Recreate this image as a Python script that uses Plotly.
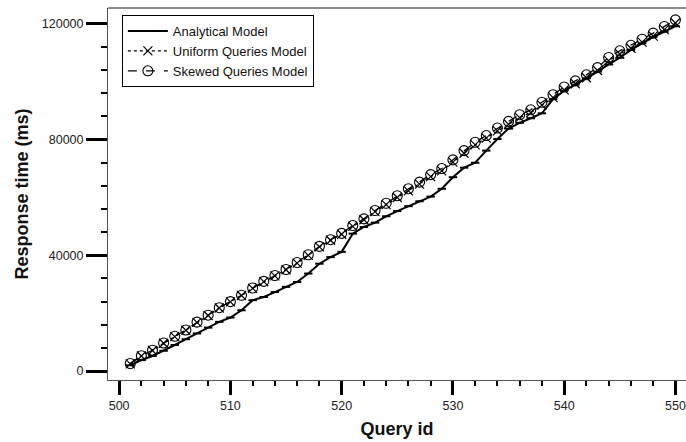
import plotly.graph_objects as go

query_ids = list(range(501, 551))

analytical = [2000, 3800, 5200, 7000, 9000, 11000, 13000, 15000, 17000, 18500,
              21000, 24500, 25600, 27300, 29100, 30800, 33700, 37100, 39400, 41200,
              47500, 49800, 51300, 53500, 55300, 57000, 58700, 60300, 63000, 67000,
              70300, 72000, 76200, 80200, 83800, 85800, 87400, 89100, 94000, 96900,
              99000, 101200, 103500, 106000, 108300, 111000, 113300, 115500, 117300, 119200]

uniform = [2500, 5200, 7100, 9600, 11900, 14100, 16800, 19200, 21800, 23900,
           26100, 28600, 30900, 32900, 35000, 37300, 40000, 42900, 45200, 47300,
           50000, 52300, 55100, 57500, 60000, 62300, 64600, 67200, 69200, 72200,
           75300, 78200, 80500, 83000, 85300, 87600, 89300, 91900, 94500, 97200,
           99300, 101400, 103900, 107300, 109600, 111600, 113700, 115800, 118000, 120300]

skewed = [2600, 5300, 7200, 9700, 12000, 14200, 16900, 19300, 21900, 24000,
          26200, 28700, 31000, 33000, 35100, 37500, 40200, 43100, 45400, 47600,
          50300, 52600, 55500, 58000, 60600, 63000, 65300, 67900, 70000, 73000,
          76200, 79100, 81400, 84000, 86300, 88600, 90300, 92900, 95500, 98200,
          100300, 102400, 104900, 108400, 110700, 112600, 114700, 116800, 119100, 121400]

x_ticks = [500, 510, 520, 530, 540, 550]
y_ticks = [0, 40000, 80000, 120000]

fig = go.Figure()
fig.add_trace(go.Scatter(
    x=query_ids, y=analytical, name="Analytical Model", mode="lines+markers",
    line=dict(color="black", width=2),
    marker=dict(symbol="line-ew", size=6, line=dict(color="black", width=2)),
))
fig.add_trace(go.Scatter(
    x=query_ids, y=uniform, name="Uniform Queries Model", mode="lines+markers",
    line=dict(color="black", width=1.3, dash="dot"),
    marker=dict(symbol="x-thin", size=9, line=dict(color="black", width=1.2)),
))
fig.add_trace(go.Scatter(
    x=query_ids, y=skewed, name="Skewed Queries Model", mode="lines+markers",
    line=dict(color="black", width=1.3, dash="dash"),
    marker=dict(symbol="circle-open", size=10, color="black", line=dict(width=1.1)),
))

fig.update_layout(
    width=686, height=442,
    margin=dict(l=108, r=0, t=8, b=62),
    paper_bgcolor="white", plot_bgcolor="white",
    font=dict(family="Liberation Sans, Arial, sans-serif", size=12, color="#222"),
    showlegend=True,
    legend=dict(
        x=0.024, y=0.981, xanchor="left", yanchor="top",
        bgcolor="white", bordercolor="black", borderwidth=1,
        font=dict(size=13, color="#111"),
        tracegroupgap=0, itemwidth=40,
    ),
    shapes=[dict(type="line", xref="paper", yref="paper", x0=0, x1=1, y0=1, y1=1,
                 line=dict(color="#666", width=1.5))],
)

fig.update_xaxes(
    range=[499.0, 550.95], tickvals=x_ticks, ticktext=[str(v) for v in x_ticks],
    showgrid=False, zeroline=False, showline=True, linecolor="#555", linewidth=1,
    ticks="outside", ticklen=14, tickwidth=3, tickcolor="black",
    minor=dict(dtick=2, ticks="outside", ticklen=5, tickwidth=2, tickcolor="black", showgrid=False),
    title=dict(text="<b>Query id</b>", font=dict(size=18, color="#111"), standoff=10),
    tickfont=dict(size=12.5),
)
fig.update_yaxes(
    range=[-3100, 125500], tickvals=y_ticks, ticktext=[str(v) for v in y_ticks],
    showgrid=False, zeroline=False, showline=True, linecolor="#555", linewidth=1,
    ticks="outside", ticklen=21, tickwidth=3, tickcolor="black",
    minor=dict(dtick=8000, ticks="outside", ticklen=6, tickwidth=2, tickcolor="black", showgrid=False),
    title=dict(text="<b>Response time (ms)</b>", font=dict(size=18, color="#111"), standoff=8),
    tickfont=dict(size=12.5),
)

fig.write_html("out.html")
